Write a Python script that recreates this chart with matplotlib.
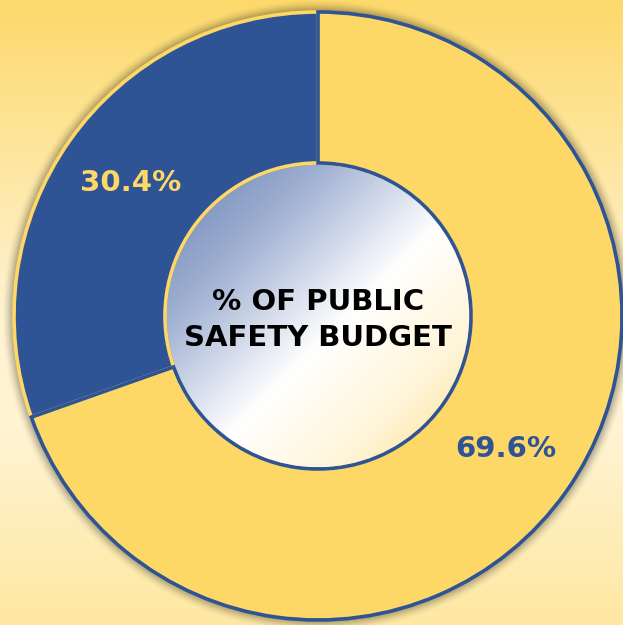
import matplotlib.pyplot as plt
import numpy as np
from matplotlib.colors import LinearSegmentedColormap
from matplotlib.patches import Circle

labels = ["Other", "Public safety"]
shares = [30.4, 69.6]
wedge_colors = ["#2F5496", "#FDD866"]
edge_colors = ["#FDD866", "#2F5496"]
label_colors = ["#FDD866", "#2F5496"]
center_text = "% OF PUBLIC\nSAFETY BUDGET"

W, H = 623, 625
cx, cy = 318, H - 316
r_out, r_in = 304, 153


def main() -> None:
    fig = plt.figure(figsize=(W / 100, H / 100), dpi=100)
    ax = fig.add_axes([0, 0, 1, 1])

    # background: vertical pale-yellow gradient
    bg = LinearSegmentedColormap.from_list(
        "bg", [(0, "#FEE8A2"), (0.3, "#FFF3D2"), (0.5, "#FFF3D2"), (1.0, "#FDD96C")]
    )
    grad = np.linspace(0, 1, 256).reshape(-1, 1)
    ax.imshow(grad, cmap=bg, extent=[0, W, 0, H], origin="lower", aspect="auto", zorder=0)

    # soft shadow around the ring
    for i in range(12):
        ax.add_patch(Circle((cx, cy), r_out + 1 + i, color="#3a3520",
                            alpha=0.08 * (1 - i / 12), lw=0, zorder=1))

    wedges, _, autotexts = ax.pie(
        shares,
        colors=wedge_colors,
        startangle=90,
        counterclock=True,
        radius=r_out,
        center=(cx, cy),
        autopct=lambda p: f"{p:.1f}%",
        pctdistance=0.757,
        wedgeprops=dict(width=r_out - r_in, linewidth=2.6),
        frame=True,
    )
    for w, ec in zip(wedges, edge_colors):
        w.set_edgecolor(ec)
        w.set_zorder(2)
    for t, c in zip(autotexts, label_colors):
        t.set_color(c)
        t.set_fontsize(21)
        t.set_fontweight("bold")
        t.set_zorder(5)
    ax.set_xlim(0, W)
    ax.set_ylim(0, H)
    ax.set_aspect("equal")
    ax.axis("off")

    # inner disc with diagonal gradient
    inner = LinearSegmentedColormap.from_list(
        "inner", [(0, "#6A82B4"), (0.25, "#9DAED0"), (0.55, "#FFFFFF"),
                  (0.78, "#FFF5D8"), (1.0, "#FDDF88")]
    )
    n = 300
    xx, yy = np.meshgrid(np.linspace(0, 1, n), np.linspace(0, 1, n))
    diag = (xx + (1 - yy)) / 2
    rr = r_in - 1.8
    im = ax.imshow(diag, cmap=inner, extent=[cx - rr, cx + rr, cy - rr, cy + rr],
                   origin="lower", zorder=3)
    im.set_clip_path(Circle((cx, cy), rr, transform=ax.transData))

    ax.text(cx, cy - 4, center_text, ha="center", va="center", fontsize=21,
            fontweight="bold", color="#000000", linespacing=1.4, zorder=6)

    fig.savefig("out.png", dpi=100)
    plt.close(fig)


if __name__ == "__main__":
    main()
